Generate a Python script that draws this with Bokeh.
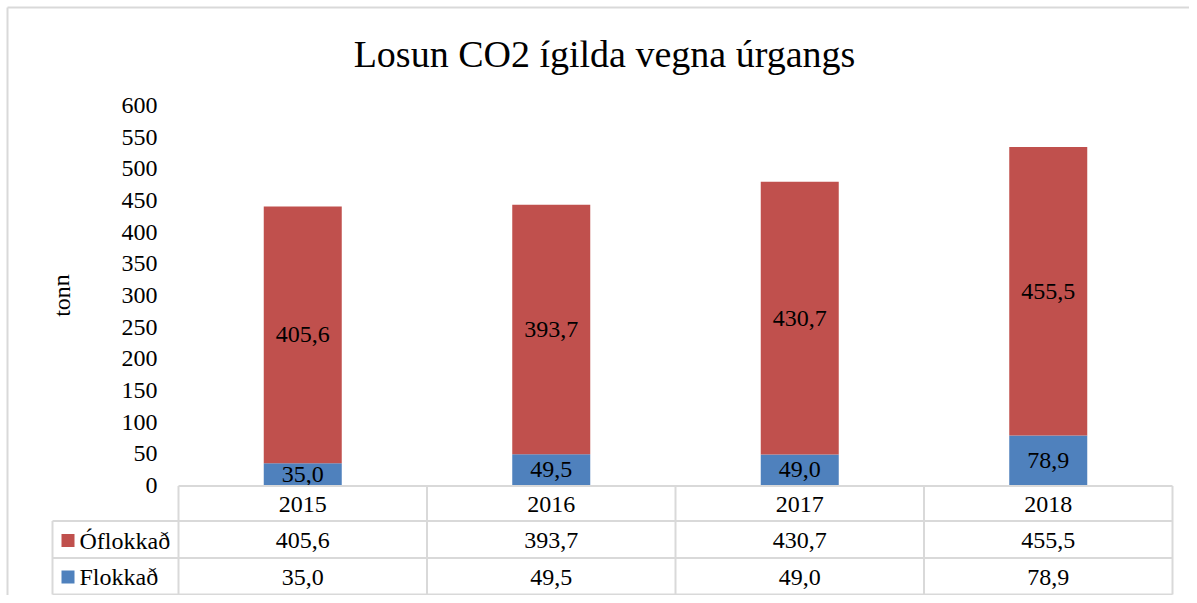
from bokeh.plotting import figure
from bokeh.models import Range1d
from bokeh.core.properties import value
from bokeh.embed import file_html
from bokeh.resources import INLINE

# ---- data ----
years = ["2015", "2016", "2017", "2018"]
flokkad = [35.0, 49.5, 49.0, 78.9]
oflokkad = [405.6, 393.7, 430.7, 455.5]
series_names = ["Óflokkað", "Flokkað"]
y_ticks = [0, 50, 100, 150, 200, 250, 300, 350, 400, 450, 500, 550, 600]
title_text = "Losun CO2 ígilda vegna úrgangs"
y_label = "tonn"

RED = "#C0504D"
BLUE = "#4F81BD"
GRID = "#D9D9D9"
FONT = value("Liberation Serif")
FS = "24px"

W, H = 1189, 595
# pixel layout (canvas coords)
PX_COL0, PX_COLW = 178.0, 248.5     # first column left edge, column width
PY_ZERO, PX_PER_UNIT = 485.0, 380.0 / 600.0


def X(px):
    return (px - PX_COL0) / PX_COLW


def Y(py):
    return (PY_ZERO - py) / PX_PER_UNIT


p = figure(width=W, height=H, output_backend="svg", toolbar_location=None,
           x_range=Range1d(X(0), X(W)), y_range=Range1d(Y(H), Y(0)),
           x_axis_location=None, y_axis_location=None, min_border=0)
p.grid.visible = False
p.outline_line_color = None
p.background_fill_color = "white"

n = len(years)
xc = [i + 0.5 for i in range(n)]
bw = 78.0 / PX_COLW
tops = [f + o for f, o in zip(flokkad, oflokkad)]

p.vbar(x=xc, width=bw, bottom=0, top=flokkad, fill_color=BLUE, line_color=None)
p.vbar(x=xc, width=bw, bottom=flokkad, top=tops, fill_color=RED, line_color=None)


def fmt(v):
    return f"{v:.1f}".replace(".", ",")


def txt(x, y, t, align="center", size=FS, **kw):
    p.text(x=x, y=y, text=t, text_align=align, text_baseline=kw.pop("baseline", "middle"),
           text_font=FONT, text_font_size=size, text_color="black", **kw)


# data labels
txt(xc, [f / 2 for f in flokkad], [fmt(v) for v in flokkad])
txt(xc, [f + o / 2 for f, o in zip(flokkad, oflokkad)], [fmt(v) for v in oflokkad])

# y tick labels
txt([X(157)] * len(y_ticks), y_ticks, [str(t) for t in y_ticks], align="right")
# y axis label
txt([X(61)], [Y(295)], [y_label], angle=1.5708)
# title
txt([X(604)], [Y(53)], [title_text], size="38px")

# border (left & top)
p.segment(x0=[X(7), X(7)], y0=[Y(H), Y(7)], x1=[X(7), X(W)], y1=[Y(7), Y(7)],
          line_color=GRID, line_width=2)

# data table grid
col_edges = [X(PX_COL0 + i * PX_COLW) for i in range(n + 1)]
row_lines_py = [485.5, 520.5, 557.5, 594.0]
x_left_tab = X(52)
xs0, ys0, xs1, ys1 = [], [], [], []
xs0.append(col_edges[0]); ys0.append(Y(row_lines_py[0])); xs1.append(col_edges[-1]); ys1.append(Y(row_lines_py[0]))
for py in row_lines_py[1:]:
    xs0.append(x_left_tab); ys0.append(Y(py)); xs1.append(col_edges[-1]); ys1.append(Y(py))
for ce in col_edges:
    xs0.append(ce); ys0.append(Y(row_lines_py[0])); xs1.append(ce); ys1.append(Y(row_lines_py[-1]))
xs0.append(x_left_tab); ys0.append(Y(row_lines_py[1])); xs1.append(x_left_tab); ys1.append(Y(row_lines_py[-1]))
p.segment(x0=xs0, y0=ys0, x1=xs1, y1=ys1, line_color=GRID, line_width=2)

row_y = [Y(503.5), Y(540), Y(576.5)]
txt(xc, [row_y[0]] * n, years)
txt(xc, [row_y[1]] * n, [fmt(v) for v in oflokkad])
txt(xc, [row_y[2]] * n, [fmt(v) for v in flokkad])

# legend keys in the table
p.scatter(x=[X(67.5)] * 2, y=[row_y[1], row_y[2]], marker="square", size=13,
          fill_color=[RED, BLUE], line_color=None)
txt([X(79)] * 2, [row_y[1], row_y[2]], series_names, align="left")

open("out.html", "w").write(file_html(p, INLINE))
